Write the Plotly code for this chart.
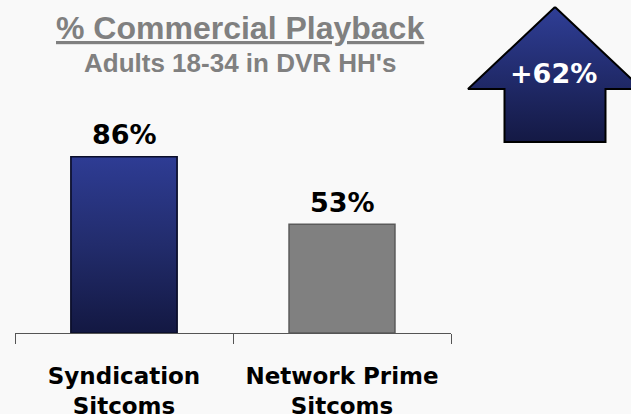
import plotly.graph_objects as go

# data
categories = ["Syndication<br>Sitcoms", "Network Prime<br>Sitcoms"]
values = [86, 53]
bar_colors = ["#1f2766", "#808080"]
bar_lines = ["#0b0e2a", "#5a5a5a"]
lift_label = "+62%"

title = "% Commercial Playback"
subtitle = "Adults 18-34 in DVR HH's"

W, H = 631, 414
BG = "#f9f9f9"
BAR_W = 0.486
ARIAL = "Liberation Sans, Arial, sans-serif"
VERD = "DejaVu Sans, Verdana, sans-serif"

fig = go.Figure()

# bars
fig.add_trace(go.Bar(
    x=list(range(len(values))), y=values, width=BAR_W,
    marker=dict(color=bar_colors, line=dict(color=bar_lines, width=1.5)),
    hoverinfo="skip", showlegend=False,
))

# gradient overlay on the blue bar, built from the same values
c, v = 0, values[0]
fig.add_trace(go.Scatter(
    x=[c - BAR_W / 2, c - BAR_W / 2, c + BAR_W / 2, c + BAR_W / 2, c - BAR_W / 2],
    y=[0, v, v, 0, 0],
    fill="toself", mode="lines",
    line=dict(color="#0b0e2a", width=1.5),
    fillgradient=dict(type="vertical", start=0, stop=v,
                      colorscale=[[0, "#131842"], [0.5, "#222c6c"], [1, "#2e3c94"]]),
    hoverinfo="skip", showlegend=False,
))

# value labels
for i, val in enumerate(values):
    fig.add_annotation(x=i, y=val, xref="x", yref="y", text=f"<b>{val}%</b>",
                       showarrow=False, yanchor="middle", yshift=22,
                       font=dict(family=VERD, size=27, color="black"))

# up arrow (decoration) in pixel space on x2/y2
ax = [555, 642, 605.5, 605.5, 504.5, 504.5, 468, 555]
ay = [7, 89, 89, 142, 142, 89, 89, 7]
fig.add_trace(go.Scatter(
    x=ax, y=ay, xaxis="x2", yaxis="y2",
    fill="toself", mode="lines",
    line=dict(color="black", width=2),
    fillgradient=dict(type="vertical", start=142, stop=7,
                      colorscale=[[0, "#141944"], [1, "#2f3e96"]]),
    hoverinfo="skip", showlegend=False,
))
fig.add_annotation(x=553, y=73, xref="x2", yref="y2", text=f"<b>{lift_label}</b>",
                   showarrow=False, yanchor="middle",
                   font=dict(family=VERD, size=27, color="white"))

# titles
fig.add_annotation(x=240, y=28, xref="x2", yref="y2", text=f"<b><u>{title}</u></b>",
                   showarrow=False, yanchor="middle",
                   font=dict(family=ARIAL, size=32, color="#808080"))
fig.add_annotation(x=240, y=63, xref="x2", yref="y2", text=f"<b>{subtitle}</b>",
                   showarrow=False, yanchor="middle",
                   font=dict(family=ARIAL, size=26, color="#808080"))

fig.update_layout(
    width=W, height=H,
    margin=dict(l=0, r=0, t=0, b=81, autoexpand=False),
    paper_bgcolor=BG, plot_bgcolor="rgba(0,0,0,0)",
    xaxis=dict(
        domain=[15 / W, 451 / W], range=[-0.5, 1.5],
        tickvals=list(range(len(categories))), ticktext=[f"<b>{t}</b>" for t in categories],
        ticks="", showgrid=False, zeroline=False,
        showline=True, linecolor="#555555", linewidth=1,
        tickfont=dict(family=VERD, size=23, color="black"),
        ticklabelstandoff=22,
        minor=dict(tickvals=[-0.5, 0.5, 1.5], ticks="outside", ticklen=10,
                   tickcolor="#555555", tickwidth=1, showgrid=False),
        automargin=False, fixedrange=True,
    ),
    yaxis=dict(domain=[0, 205 / 333], range=[0, 100], visible=False,
               fixedrange=True),
    xaxis2=dict(domain=[0, 1], range=[0, W], visible=False, anchor="y2",
                fixedrange=True),
    yaxis2=dict(domain=[0, 1], range=[333, 0], visible=False, anchor="x2",
                fixedrange=True),
)

fig.write_html("out.html", config={"displayModeBar": False},
               post_script="document.body.style.margin='0';document.body.style.overflow='hidden';")
